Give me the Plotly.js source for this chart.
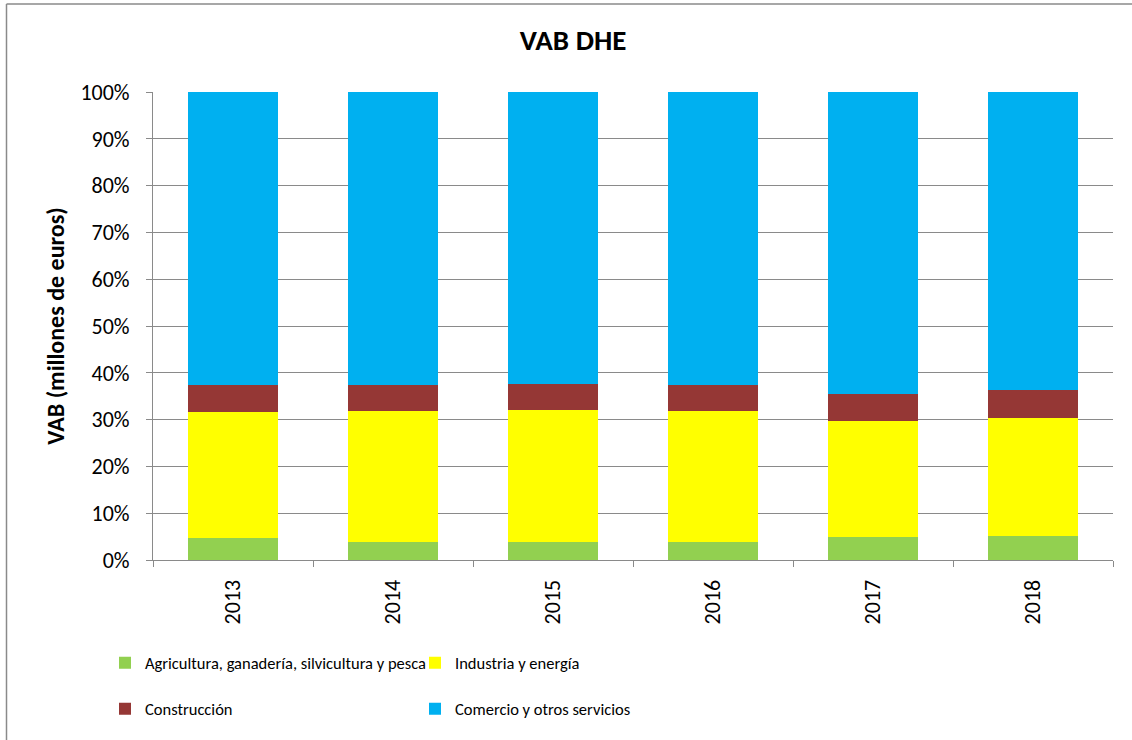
<!DOCTYPE html>
<html>
<head>
<meta charset="utf-8">
<script src="https://cdn.plot.ly/plotly-3.0.1.min.js"></script>
<style>
  html, body { margin: 0; padding: 0; background: #ffffff; }
  #chart { width: 1132px; height: 740px; }
</style>
</head>
<body>
<div id="chart"></div>
<script>
// Data (shares of VAB, %)
const years = ["2013", "2014", "2015", "2016", "2017", "2018"];
const agricultura = [4.6, 3.9, 3.9, 3.9, 4.85, 5.05];
const industria = [27.0, 27.9, 28.2, 27.9, 24.95, 25.3];
const construccion = [5.9, 5.7, 5.5, 5.5, 5.7, 6.0];
const comercio = [62.5, 62.5, 62.4, 62.7, 64.5, 63.65];

const seriesNames = [
  "Agricultura, ganadería, silvicultura y pesca",
  "Industria y energía",
  "Construcción",
  "Comercio y otros servicios"
];
const yTickVals = [0, 10, 20, 30, 40, 50, 60, 70, 80, 90, 100];
const yTickText = ["0%", "10%", "20%", "30%", "40%", "50%", "60%", "70%", "80%", "90%", "100%"];

const FONT = "Carlito, Calibri, sans-serif";
const GRID = "#8a8a8a";

function bar(name, y, color, legend) {
  return {
    type: "bar", name: name, x: years, y: y,
    marker: { color: color, line: { width: 0 } },
    legend: legend,
    hoverinfo: "name+y"
  };
}

const data = [
  bar(seriesNames[0], agricultura, "#92D050", "legend"),
  bar(seriesNames[1], industria, "#FFFF00", "legend2"),
  bar(seriesNames[2], construccion, "#953735", "legend3"),
  bar(seriesNames[3], comercio, "#00B0F0", "legend4")
];

const W = 1132, H = 740;
const mL = 153, mR = 19, mT = 92, mB = 180;
const pw = W - mL - mR, ph = H - mT - mB;
const px = (x) => (x - mL) / pw;
const py = (y) => (H - mB - y) / ph;

function leg(xText, yMid) {
  return {
    orientation: "h",
    xanchor: "left", yanchor: "middle",
    x: px(xText - 40), y: py(yMid),
    font: { family: FONT, size: 16.5, color: "#000" },
    itemwidth: 30,
    bgcolor: "rgba(0,0,0,0)",
    borderwidth: 0
  };
}

const layout = {
  width: W, height: H,
  margin: { l: mL, r: mR, t: mT, b: mB },
  paper_bgcolor: "#ffffff",
  plot_bgcolor: "#ffffff",
  font: { family: FONT, size: 22, color: "#000" },
  title: {
    text: "<b>VAB DHE</b>",
    font: { family: FONT, size: 29, color: "#000" },
    xref: "paper", x: px(573), xanchor: "center",
    y: 1 - 39.5 / H, yanchor: "middle"
  },
  barmode: "stack",
  bargap: 0.4375,
  xaxis: {
    type: "category",
    tickson: "boundaries",
    ticks: "outside", ticklen: 6, tickcolor: GRID, tickwidth: 1,
    tickangle: -90,
    ticklabelstandoff: 10,
    showline: true, linecolor: GRID, linewidth: 1,
    showgrid: false,
    tickfont: { family: FONT, size: 22, color: "#000" }
  },
  yaxis: {
    range: [0, 100],
    tickvals: yTickVals,
    ticktext: yTickText,
    ticks: "outside", ticklen: 6, tickcolor: GRID, tickwidth: 1,
    ticklabelstandoff: 12,
    showline: true, linecolor: GRID, linewidth: 1,
    showgrid: true, gridcolor: GRID, gridwidth: 1,
    zeroline: false,
    tickfont: { family: FONT, size: 22, color: "#000" },
    title: {
      text: "<b>VAB (millones de euros)</b>",
      font: { family: FONT, size: 24, color: "#000" },
      standoff: 9
    }
  },
  legend: leg(145, 663),
  legend2: leg(455, 663),
  legend3: leg(145, 709),
  legend4: leg(455, 709),
  shapes: [
    { type: "line", xref: "paper", yref: "paper",
      x0: px(6.5), x1: px(6.5), y0: py(4), y1: py(H + 2),
      line: { color: GRID, width: 1.5 } },
    { type: "line", xref: "paper", yref: "paper",
      x0: px(6.5), x1: px(W + 2), y0: py(4), y1: py(4),
      line: { color: GRID, width: 1.5 } }
  ],
  showlegend: true
};

Plotly.newPlot("chart", data, layout, { displayModeBar: false, staticPlot: true });
</script>
</body>
</html>
